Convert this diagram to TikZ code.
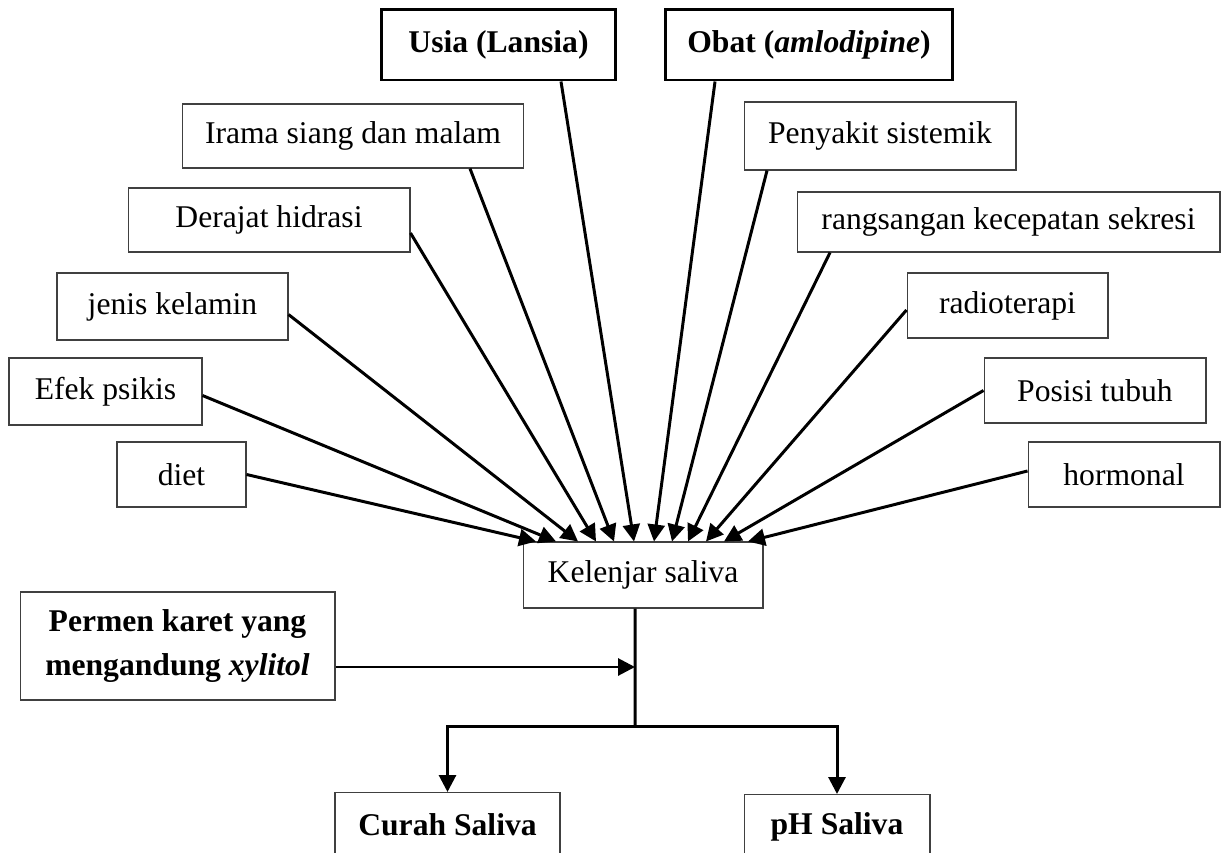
\documentclass[tikz,border=0pt]{standalone}
\usepackage{fontspec}
\setmainfont{Liberation Serif}
\usetikzlibrary{arrows.meta}

\begin{document}
\begin{tikzpicture}[x=0.02cm, y=-0.02cm,
	box/.style={draw=black!75, line width=0.6pt, inner sep=0pt, font=\fontsize{18}{25}\selectfont, align=center},
	thickbox/.style={box, draw=black, line width=1.7pt, font=\fontsize{18}{25}\selectfont\bfseries},
	arr/.style={line width=1.7pt, -{Triangle[length=0.34cm, width=0.34cm]}},
	link/.style={line width=1.7pt}]
\useasboundingbox (0,0) rectangle (1227,852);
\clip (0,0) rectangle (1227,852);

\node[thickbox, minimum width=4.70cm, minimum height=1.42cm] (usia) at (498.5,44.5) {Usia (Lansia)};
\node[thickbox, minimum width=5.76cm, minimum height=1.42cm] (obat) at (809,44.5) {Obat (\textit{amlodipine})};
\node[box, minimum width=6.84cm, minimum height=1.28cm] (irama) at (353,136) {Irama siang dan malam};
\node[box, minimum width=5.44cm, minimum height=1.36cm] (penyakit) at (880,136) {Penyakit sistemik};
\node[box, minimum width=5.64cm, minimum height=1.28cm] (derajat) at (269,220) {Derajat hidrasi};
\node[box, minimum width=8.46cm, minimum height=1.20cm] (rangsang) at (1008.5,222) {rangsangan kecepatan sekresi};
\node[box, minimum width=4.62cm, minimum height=1.34cm] (jenis) at (172.5,306.5) {jenis kelamin};
\node[box, minimum width=4.02cm, minimum height=1.30cm] (radio) at (1007.5,305.5) {radioterapi};
\node[box, minimum width=3.86cm, minimum height=1.34cm] (efek) at (105.5,391.5) {Efek psikis};
\node[box, minimum width=4.44cm, minimum height=1.30cm] (posisi) at (1095,390.5) {Posisi tubuh};
\node[box, minimum width=2.58cm, minimum height=1.30cm] (diet) at (181.5,474.5) {diet};
\node[box, minimum width=3.84cm, minimum height=1.30cm] (hormon) at (1124,474.5) {hormonal};

\node[box, minimum width=4.80cm, minimum height=1.32cm] (kel) at (643,575) {Kelenjar saliva};
\node[box, minimum width=6.30cm, minimum height=2.16cm, font=\fontsize{18}{25}\selectfont\bfseries] (permen) at (177.5,646) {Permen karet yang\\ mengandung \textit{xylitol}};
\node[box, anchor=north, minimum width=4.50cm, minimum height=1.28cm, font=\fontsize{18}{25}\selectfont\bfseries] (curah) at (447.5,792) {Curah Saliva};
\node[box, anchor=north, minimum width=3.72cm, minimum height=1.28cm, font=\fontsize{18}{25}\selectfont\bfseries] (ph) at (837,794) {pH Saliva};

\draw[arr] (diet.east) -- ([xshift=-2.14cm]kel.north);
\draw[arr] ([yshift=-0.08cm]efek.east) -- ([xshift=-1.74cm]kel.north);
\draw[arr] ([yshift=-0.16cm]jenis.east) -- ([xshift=-1.30cm]kel.north);
\draw[arr] ([yshift=-0.26cm]derajat.east) -- ([xshift=-0.94cm]kel.north);
\draw[arr] ([xshift=2.34cm]irama.south) -- ([xshift=-0.58cm]kel.north);
\draw[arr] ([xshift=1.25cm]usia.south) -- ([xshift=-0.18cm]kel.north);
\draw[arr] ([xshift=-1.88cm]obat.south) -- ([xshift=0.22cm]kel.north);
\draw[arr] ([xshift=-2.26cm]penyakit.south) -- ([xshift=0.58cm]kel.north);
\draw[arr] ([xshift=-3.57cm]rangsang.south) -- ([xshift=0.90cm]kel.north);
\draw[arr] ([yshift=-0.09cm]radio.west) -- ([xshift=1.26cm]kel.north);
\draw[arr] (posisi.west) -- ([xshift=1.62cm]kel.north);
\draw[arr] ([yshift=0.07cm]hormon.west) -- ([xshift=2.10cm]kel.north);

\coordinate (jn) at (635,726);
\coordinate (pin) at ([yshift=-0.42cm]permen.east);
\draw[link] ([xshift=-0.16cm]kel.south) -- (jn);
\draw[arr] (pin) -- (pin -| jn);
\draw[arr] (jn) -| (curah.north);
\draw[arr] (jn) -| (ph.north);
\end{tikzpicture}
\end{document}
